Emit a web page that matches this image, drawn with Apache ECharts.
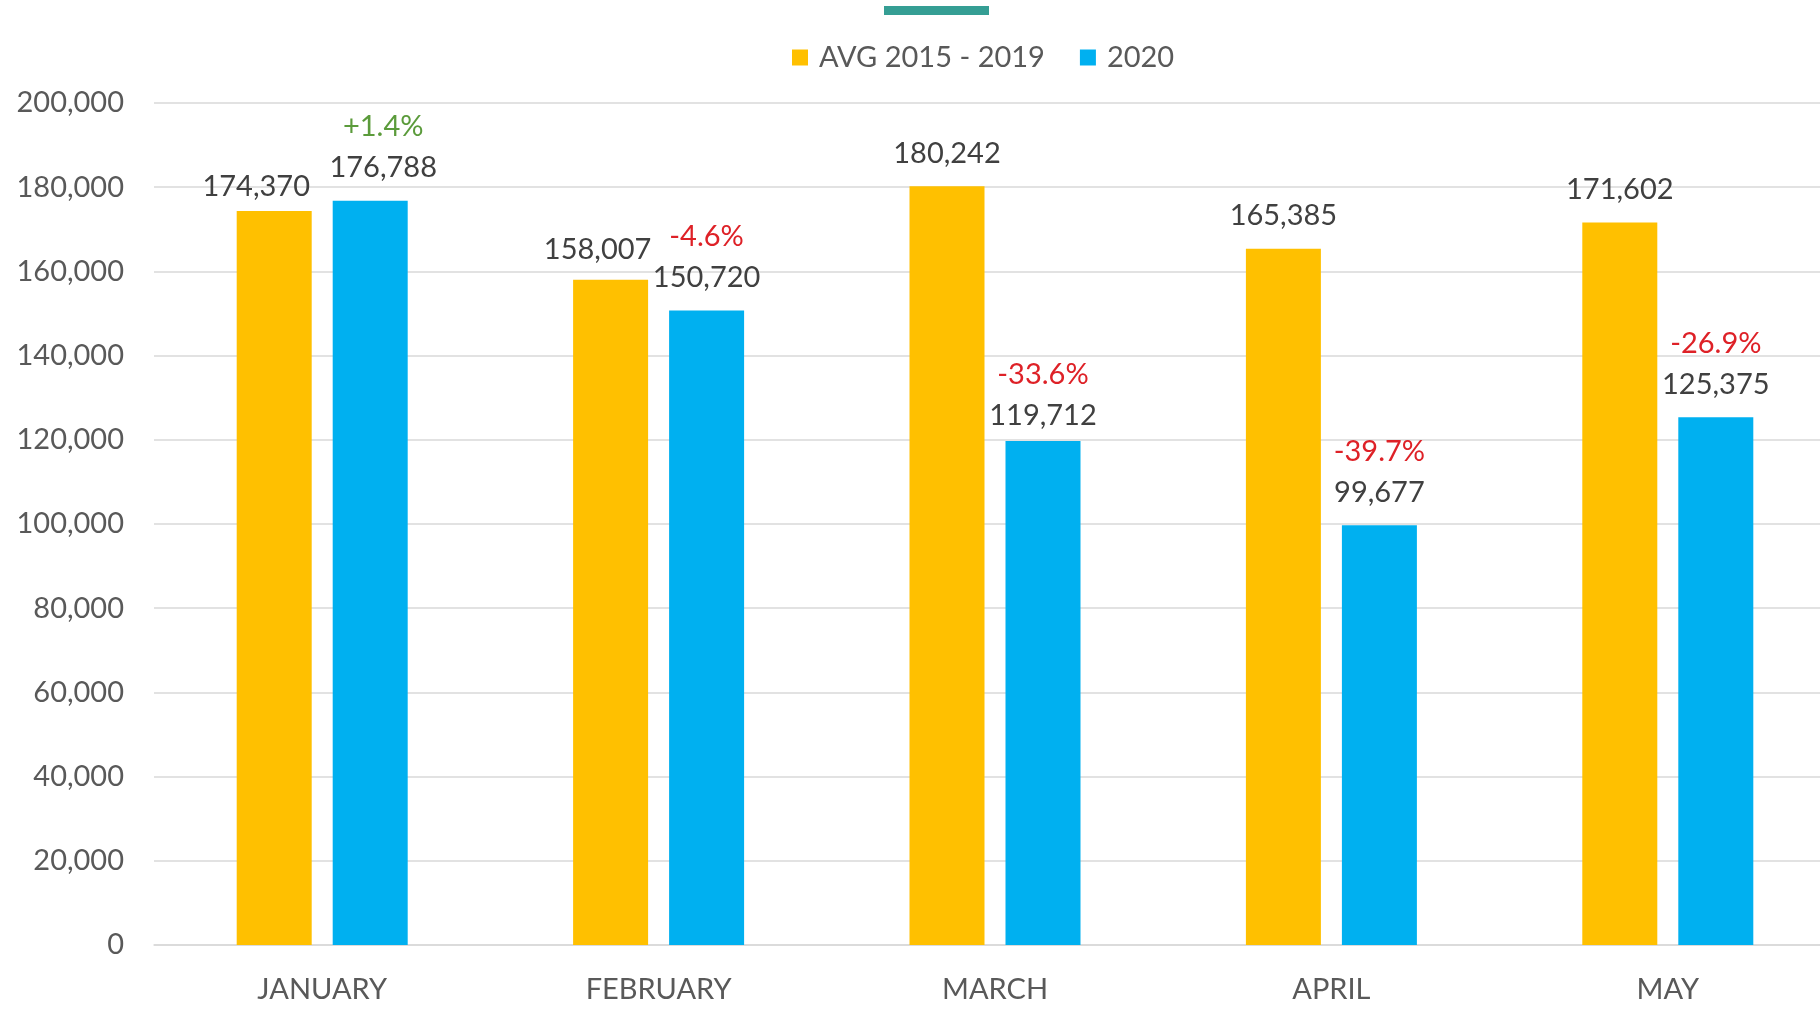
<!DOCTYPE html>
<html>
<head>
<meta charset="utf-8">
<script src="https://cdn.jsdelivr.net/npm/echarts@6/dist/echarts.min.js"></script>
<style>
  html, body { margin: 0; padding: 0; background: #fff; overflow: hidden; }
  #main { width: 1836px; height: 1009px; }
</style>
</head>
<body>
<div id="main"></div>
<script>
// 数据
var months = ["JANUARY", "FEBRUARY", "MARCH", "APRIL", "MAY"];
var avg2015to2019 = [174370, 158007, 180242, 165385, 171602];
var values2020 = [176788, 150720, 119712, 99677, 125375];
var pctChange = ["+1.4%", "-4.6%", "-33.6%", "-39.7%", "-26.9%"];
var yTicks = [0, 20000, 40000, 60000, 80000, 100000, 120000, 140000, 160000, 180000, 200000];

var fontFamily = "Lato, 'Open Sans', sans-serif";
var fmt = function (v) {
  return v.toString().replace(/\B(?=(\d{3})+(?!\d))/g, ",");
};

// 手动微调过的标签位置
var avgLabelOffset = { 0: [-18, 9], 1: [-13, 3] };
var newLabelOffset = { 0: [13, 0], 2: [0, 8] };

// 绘图区比页面略宽，右侧被裁掉
var chart = echarts.init(document.getElementById("main"));
chart.setOption({
  animation: false,
  color: ["#FFC000", "#00B0F0"],
  textStyle: { fontFamily: fontFamily },
  graphic: [
    {
      type: "rect",
      shape: { x: 884, y: 6, width: 105, height: 9 },
      style: { fill: "#359E94" }
    }
  ],
  legend: {
    left: 787,
    top: 38,
    icon: "rect",
    itemWidth: 16,
    itemHeight: 16,
    itemGap: 35,
    textStyle: {
      fontFamily: fontFamily,
      fontSize: 29,
      color: "#595959",
      padding: [0, 0, 0, 6]
    },
    data: ["AVG 2015 - 2019", "2020"]
  },
  grid: {
    left: 154,
    right: 0,
    top: 103,
    bottom: 64
  },
  xAxis: {
    type: "category",
    data: months,
    axisTick: { show: false },
    axisLine: { lineStyle: { color: "#D9D9D9", width: 1.5 } },
    axisLabel: {
      margin: 30,
      fontFamily: fontFamily,
      fontSize: 29,
      color: "#595959"
    }
  },
  yAxis: {
    type: "value",
    min: yTicks[0],
    max: yTicks[yTicks.length - 1],
    interval: yTicks[1] - yTicks[0],
    axisLine: { show: false },
    axisTick: { show: false },
    splitLine: { lineStyle: { color: "#D9D9D9", width: 1.5 } },
    axisLabel: {
      margin: 30,
      fontFamily: fontFamily,
      fontSize: 29,
      color: "#595959",
      formatter: function (value) {
        return fmt(value);
      }
    }
  },
  series: [
    {
      name: "AVG 2015 - 2019",
      type: "bar",
      barWidth: 75,
      barGap: "28%",
      data: avg2015to2019.map(function (v, i) {
        var item = { value: v };
        if (avgLabelOffset[i]) item.label = { offset: avgLabelOffset[i] };
        return item;
      }),
      label: {
        show: true,
        position: "top",
        distance: 16,
        fontFamily: fontFamily,
        fontSize: 29,
        lineHeight: 34,
        color: "#404040",
        formatter: function (p) {
          return fmt(p.value);
        }
      }
    },
    {
      name: "2020",
      type: "bar",
      barWidth: 75,
      data: values2020.map(function (v, i) {
        var item = { value: v };
        if (newLabelOffset[i]) item.label = { offset: newLabelOffset[i] };
        return item;
      }),
      label: {
        show: true,
        position: "top",
        distance: 16,
        fontFamily: fontFamily,
        formatter: function (p) {
          var pct = pctChange[p.dataIndex];
          var style = pct.charAt(0) === "+" ? "up" : "down";
          return "{" + style + "|" + pct + "}\n{v|" + fmt(p.value) + "}";
        },
        rich: {
          up: { fontFamily: fontFamily, fontSize: 29, lineHeight: 48, color: "#5B9B3B" },
          down: { fontFamily: fontFamily, fontSize: 29, lineHeight: 48, color: "#DE2127" },
          v: { fontFamily: fontFamily, fontSize: 29, lineHeight: 34, color: "#404040" }
        }
      }
    }
  ]
});
</script>
</body>
</html>
